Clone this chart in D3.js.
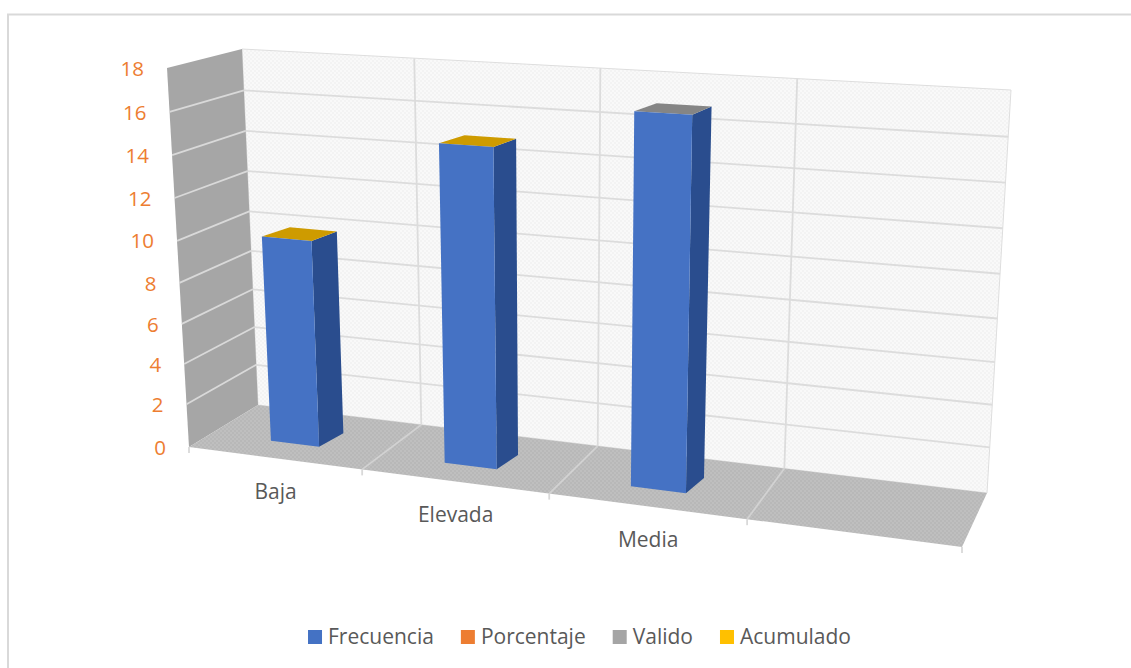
<!DOCTYPE html>
<html>
<head>
<meta charset="utf-8">
<script src="https://cdn.jsdelivr.net/npm/d3@7"></script>
<style>
  html, body { margin: 0; padding: 0; background: #fff; }
  svg { display: block; }
  text { font-family: "Open Sans", sans-serif; }
</style>
</head>
<body>
<div id="container"></div>
<script>
const categories = ["Baja", "Elevada", "Media", ""]
const frecuencia = [10, 15, 17]
const topSeries = ["Acumulado", "Acumulado", "Valido"]
const valueTicks = [0, 2, 4, 6, 8, 10, 12, 14, 16, 18]
const legendNames = ["Frecuencia", "Porcentaje", "Valido", "Acumulado"]
const legendColors = ["#4472c4", "#ed7d31", "#a5a5a5", "#ffc000"]

const width = 1131
const height = 668

const color = d3.scaleOrdinal().domain(legendNames).range(legendColors)

// the box of the 3d chart as it lands on the page
const corners = {
  fbl: [189, 447], fbr: [962, 547], ftl: [167, 68], ftr: [984, 119],
  bbl: [258, 405], bbr: [987, 493], btl: [242, 49], btr: [1011, 90]
}

// perspective makes the steps uneven, so both scales are piecewise
const catPos = d3.scaleLinear().domain([0, 1, 2, 3, 4]).range([0, .224, .466, .722, 1])
const valPos = d3.scaleLinear().domain(valueTicks)
                .range([0, .113, .219, .325, .433, .544, .657, .770, .884, 1])
const band = d3.scaleBand().domain(categories).range([0, 3.965])
               .paddingInner(.715).paddingOuter(.35)

const mix = (a, b, t) => [a[0] + (b[0] - a[0]) * t, a[1] + (b[1] - a[1]) * t]

// c = category position 0-4, v = value 0-18, d = depth 0 front, 1 back
function project(c, v, d) {
  const u = catPos(c), t = valPos(v)
  const front = mix(mix(corners.fbl, corners.fbr, u), mix(corners.ftl, corners.ftr, u), t)
  const back = mix(mix(corners.bbl, corners.bbr, u), mix(corners.btl, corners.btr, u), t)
  return mix(front, back, d)
}

const poly = pts => pts.map(p => p.join(",")).join(" ")

const svg = d3.select("#container").append("svg")
              .attr("width", width)
              .attr("height", height)

const defs = svg.append("defs")

function dither(id, base, dot) {
  const p = defs.append("pattern").attr("id", id)
                .attr("width", 4).attr("height", 4)
                .attr("patternUnits", "userSpaceOnUse")
  p.append("rect").attr("width", 4).attr("height", 4).attr("fill", base)
  p.append("rect").attr("width", 2).attr("height", 2).attr("fill", dot)
  p.append("rect").attr("x", 2).attr("y", 2).attr("width", 2).attr("height", 2).attr("fill", dot)
}
dither("wallFill", "#f9f9f9", "#f3f3f3")
dither("floorFill", "#bfbfbf", "#b8b8b8")

// the reference is a soft scan, the plot gets a touch of blur
defs.append("filter").attr("id", "soft")
    .attr("x", "-2%").attr("y", "-2%").attr("width", "104%").attr("height", "104%")
    .append("feGaussianBlur").attr("stdDeviation", .6)

/* chart frame */
svg.append("path")
   .attr("d", `M8,${height}V14.5H${width}`)
   .attr("fill", "none")
   .attr("stroke", "#d9d9d9")
   .attr("stroke-width", 2)

const plot = svg.append("g").attr("filter", "url(#soft)")

/* walls and floor */
plot.append("polygon")
   .attr("points", poly([corners.btl, corners.btr, corners.bbr, corners.bbl]))
   .attr("fill", "url(#wallFill)")
   .attr("stroke", "#dedede")
plot.append("polygon")
   .attr("points", poly([corners.ftl, corners.btl, corners.bbl, corners.fbl]))
   .attr("fill", "#a6a6a6")
plot.append("polygon")
   .attr("points", poly([corners.fbl, corners.bbl, corners.bbr, corners.fbr]))
   .attr("fill", "url(#floorFill)")

/* gridlines */
const gridLine = (a, b, stroke) => plot.append("line")
   .attr("x1", a[0]).attr("y1", a[1])
   .attr("x2", b[0]).attr("y2", b[1])
   .attr("stroke", stroke)
   .attr("stroke-width", 1.8)

valueTicks.slice(1, -1).forEach(v => {
  gridLine(project(0, v, 0), project(0, v, 1), "#d9d9d9")
  gridLine(project(0, v, 1), project(4, v, 1), "#dcdcdc")
})
d3.range(1, 4).forEach(c => {
  gridLine(project(c, 0, 1), project(c, 18, 1), "#dcdcdc")
  gridLine(project(c, 0, 0), project(c, 0, 1), "#d2d2d2")
})
d3.range(0, 5).forEach(c => {
  const p = project(c, 0, 0)
  gridLine(p, [p[0], p[1] + 6], "#d9d9d9")
})

/* bars */
const depthFront = .33
const depthBack = .65
// back edges of the bars sit a bit further right than the box projection gives
const leanLeft = .035
const leanRight = .025

frecuencia.forEach((value, i) => {
  const c0 = band(categories[i])
  const c1 = c0 + band.bandwidth()
  const faces = [
    { pts: [project(c1, 0, depthFront), project(c1 + leanRight, 0, depthBack), project(c1 + leanRight, value, depthBack), project(c1, value, depthFront)], fill: "#2a4e8e" },
    { pts: [project(c0, value, depthFront), project(c1, value, depthFront), project(c1 + leanRight, value, depthBack), project(c0 + leanLeft, value, depthBack)], fill: d3.color(color(topSeries[i])).darker(.6) },
    { pts: [project(c0, 0, depthFront), project(c1, 0, depthFront), project(c1, value, depthFront), project(c0, value, depthFront)], fill: "#4472c4" }
  ]
  plot.append("g").attr("class", "bar")
     .selectAll("polygon")
     .data(faces)
     .enter()
     .append("polygon")
     .attr("points", d => poly(d.pts))
     .attr("fill", d => d.fill)
})

/* value labels */
svg.append("g")
   .selectAll("text")
   .data(valueTicks)
   .enter()
   .append("text")
   .attr("x", d => project(0, d, 0)[0] - 23)
   .attr("y", d => project(0, d, 0)[1] + .5)
   .attr("dy", ".35em")
   .attr("text-anchor", "end")
   .attr("font-size", 20.5)
   .attr("fill", "#ed7d31")
   .text(d => d)

/* category labels */
svg.append("g")
   .selectAll("text")
   .data(categories)
   .enter()
   .append("text")
   .attr("x", (d, i) => project(i + .5, 0, 0)[0])
   .attr("y", (d, i) => project(i + .5, 0, 0)[1] + 33)
   .attr("dy", ".35em")
   .attr("text-anchor", "middle")
   .attr("font-size", 21)
   .attr("fill", "#595959")
   .text(d => d)

/* legend */
const legend = svg.append("g")
let legendX = 0
legendNames.forEach(name => {
  const item = legend.append("g").attr("transform", `translate(${legendX},0)`)
  item.append("rect")
      .attr("y", 630)
      .attr("width", 14)
      .attr("height", 14)
      .attr("fill", color(name))
  const label = item.append("text")
      .attr("x", 20)
      .attr("y", 637)
      .attr("dy", ".35em")
      .attr("font-size", 21)
      .attr("fill", "#595959")
      .text(name)
  legendX += 20 + label.node().getComputedTextLength() + 27
})
legend.attr("transform", `translate(${579.5 - (legendX - 27) / 2},0)`)
</script>
</body>
</html>
